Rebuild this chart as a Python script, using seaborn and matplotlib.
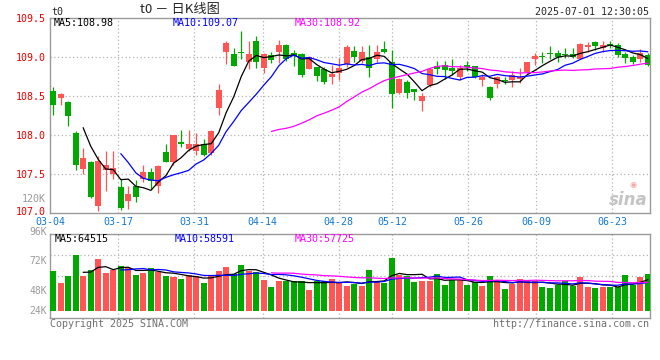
import numpy as np
import pandas as pd
import matplotlib
matplotlib.use("Agg")
import matplotlib.pyplot as plt
import matplotlib.transforms as mtransforms
import seaborn as sns

# daily bars 03-04 .. 06-30 (t0)
opens = [108.57, 108.48, 108.42, 108.02, 107.57, 107.65, 107.09, 107.55, 107.50, 107.33,
         107.16, 107.35, 107.44, 107.53, 107.34, 107.78, 107.65, 107.91, 107.82, 107.79,
         107.88, 107.77, 108.35, 109.07, 109.04, 109.06, 108.94, 109.21, 108.86, 109.02,
         109.06, 109.16, 109.05, 109.04, 108.85, 108.87, 108.84, 108.75, 108.80, 108.91,
         109.08, 108.95, 109.00, 108.98, 109.10, 108.93, 108.54, 108.68, 108.59, 108.44,
         108.64, 108.89, 108.90, 108.86, 108.75, 108.90, 108.89, 108.70, 108.62, 108.65,
         108.71, 108.71, 108.72, 108.81, 108.97, 109.01, 109.05, 109.05, 109.04, 109.04,
         108.98, 109.13, 109.19, 109.11, 109.17, 109.16, 109.04, 109.00, 108.98, 109.03]
highs = [108.61, 108.54, 108.44, 108.05, 107.83, 107.67, 107.73, 107.80, 107.80, 107.43,
         107.34, 107.42, 107.61, 107.58, 107.62, 107.88, 108.00, 108.07, 108.07, 108.03,
         107.95, 108.06, 108.65, 109.21, 109.12, 109.33, 109.20, 109.27, 109.05, 109.06,
         109.22, 109.17, 109.09, 109.05, 109.01, 108.87, 108.87, 108.90, 108.99, 109.15,
         109.14, 109.14, 109.16, 109.16, 109.21, 109.09, 108.73, 108.70, 108.59, 108.54,
         108.86, 108.95, 108.95, 108.97, 108.90, 108.95, 108.89, 108.78, 108.63, 108.76,
         108.75, 108.82, 108.86, 108.94, 109.05, 109.07, 109.14, 109.09, 109.11, 109.11,
         109.18, 109.19, 109.20, 109.21, 109.20, 109.18, 109.06, 109.03, 109.10, 109.05]
lows = [108.26, 108.39, 108.12, 107.55, 107.50, 107.19, 107.03, 107.28, 107.43, 107.04,
        107.05, 107.14, 107.40, 107.31, 107.26, 107.65, 107.62, 107.84, 107.79, 107.75,
        107.73, 107.74, 108.26, 108.91, 108.88, 108.97, 108.84, 108.86, 108.80, 108.92,
        108.92, 108.95, 108.88, 108.74, 108.84, 108.69, 108.66, 108.66, 108.71, 108.87,
        108.94, 108.92, 108.75, 108.94, 109.05, 108.35, 108.52, 108.48, 108.45, 108.31,
        108.62, 108.78, 108.72, 108.77, 108.71, 108.82, 108.73, 108.63, 108.45, 108.60,
        108.65, 108.62, 108.67, 108.79, 108.90, 108.92, 108.97, 108.94, 108.99, 108.99,
        108.97, 109.06, 109.09, 109.06, 109.11, 109.00, 108.92, 108.91, 108.94, 108.88]
closes = [108.39, 108.52, 108.24, 107.62, 107.70, 107.21, 107.67, 107.62, 107.58, 107.06,
          107.24, 107.21, 107.53, 107.41, 107.60, 107.65, 108.00, 107.88, 107.88, 107.88,
          107.75, 108.05, 108.58, 109.18, 108.89, 109.05, 109.04, 108.94, 109.04, 108.96,
          109.15, 108.98, 109.01, 108.77, 109.00, 108.76, 108.68, 108.78, 108.86, 109.13,
          109.00, 109.06, 108.86, 109.06, 109.06, 108.53, 108.72, 108.54, 108.55, 108.50,
          108.85, 108.85, 108.83, 108.82, 108.86, 108.87, 108.74, 108.74, 108.47, 108.74,
          108.69, 108.77, 108.74, 108.93, 109.01, 109.00, 109.04, 109.00, 109.02, 109.00,
          109.17, 109.15, 109.14, 109.16, 109.15, 109.02, 108.99, 108.94, 109.05, 108.90]
volume_k = [82.5, 57.7, 72.0, 115.0, 72.0, 84.0, 107.0, 79.0, 84.5, 92.8,
            88.0, 74.0, 79.0, 88.7, 79.7, 72.8, 70.0, 66.0, 74.0, 72.0,
            57.7, 72.0, 82.5, 90.7, 76.3, 94.8, 82.5, 81.0, 64.0, 49.5,
            61.9, 62.5, 62.5, 62.5, 43.3, 61.9, 61.9, 66.0, 58.4, 51.5,
            55.7, 51.5, 84.5, 60.5, 58.4, 110.0, 74.0, 72.0, 60.5, 62.5,
            62.5, 77.0, 54.3, 64.0, 64.0, 54.3, 59.8, 52.2, 72.0, 64.0,
            46.0, 55.7, 66.0, 62.5, 62.5, 50.0, 48.0, 53.6, 62.5, 51.5,
            69.4, 50.0, 48.0, 50.0, 50.0, 48.8, 74.0, 53.6, 70.0, 76.3]

date_labels = ["03-04", "03-17", "03-31", "04-14", "04-28", "05-12", "05-26", "06-09", "06-23"]
date_idx = [0, 9, 19, 28, 38, 45, 55, 64, 74]
price_ticks = [107.0, 107.5, 108.0, 108.5, 109.0, 109.5]
vol_labels = ["96K", "72K", "48K", "24K"]
price_ma_text = ["MA5:108.98", "MA10:109.07", "MA30:108.92"]
vol_ma_text = ["MA5:64515", "MA10:58591", "MA30:57725"]

df = pd.DataFrame({"open": opens, "high": highs, "low": lows,
                   "close": closes, "vol": volume_k})
df["x"] = np.arange(len(df))
df["up"] = df["close"] >= df["open"]
for n in (5, 10, 30):
    df[f"ma{n}"] = df["close"].rolling(n).mean()
    df[f"vma{n}"] = df["vol"].rolling(n).mean()

RED = "#ff5555"
GREEN = "#00a800"
GRID = "#b4b4b4"
BORDER = "#9a9a9a"
ma_colors = ["black", "#0000ff", "#ff00ff"]

sns.set_style("white")
plt.rcParams["font.family"] = ["DejaVu Sans Mono", "Noto Sans CJK SC"]
FS = 7.2

W, H = 660, 360
fig = plt.figure(figsize=(6.6, 3.6), dpi=100)
ax = fig.add_axes([50 / W, 1 - 213 / H, 600 / W, 195 / H])
axv = fig.add_axes([50 / W, 1 - 318 / H, 600 / W, 84 / H])

colors = np.where(df["up"], RED, GREEN)
grid_x = [i * 1.0093 - 0.4 for i in date_idx]

# price panel
ax.vlines(df["x"], df["low"], df["high"], colors=colors, lw=0.9, zorder=3)
body = (df["close"] - df["open"]).abs().clip(lower=0.013)
ax.bar(df["x"], body, bottom=df[["open", "close"]].min(axis=1), width=0.8,
       color=colors, lw=0, zorder=4)
for n, c in zip((5, 10, 30), ma_colors):
    sns.lineplot(data=df, x="x", y=f"ma{n}", ax=ax, color=c, lw=0.9, zorder=5)

ax.set_xlim(-0.4, 79.28)
ax.set_ylim(107.0, 109.5)
for y in price_ticks[1:-1]:
    ax.axhline(y, color=GRID, lw=0.9, ls=(0, (1, 2)), zorder=1)
for gx in grid_x[1:]:
    ax.axvline(gx, color=GRID, lw=0.9, ls=(0, (1, 2)), zorder=1)
ax.set_yticks(price_ticks)
ax.set_yticklabels([f"{p:.1f}" for p in price_ticks], color="#ee0000", fontsize=FS)
ax.set_xticks(grid_x)
ax.set_xticklabels(date_labels, color="#1478d2", fontsize=FS)
ax.tick_params(length=0, pad=3)
ax.tick_params(axis="x", pad=3.1)
ax.set_xlabel("")
ax.set_ylabel("")
# lift the bottom price label a little so it clears the date labels
low_lbl = ax.get_yticklabels()[0]
low_lbl.set_transform(low_lbl.get_transform() +
                      mtransforms.ScaledTranslation(0, 1.6 / 72, fig.dpi_scale_trans))

# volume panel
axv.bar(df["x"], df["vol"], width=0.8, color=colors, lw=0, zorder=3)
for n, c in zip((5, 10, 30), ma_colors):
    sns.lineplot(data=df, x="x", y=f"vma{n}", ax=axv, color=c, lw=0.9, zorder=5)
axv.set_xlim(-0.4, 79.28)
axv.set_ylim(-14.4, 158.8)
lo, hi = axv.get_ylim()
for f in (0.25, 0.5, 0.75):
    axv.axhline(lo + f * (hi - lo), color=GRID, lw=0.9, ls=(0, (1, 2)), zorder=1)
for gx in grid_x[1:]:
    axv.axvline(gx, color=GRID, lw=0.9, ls=(0, (1, 2)), zorder=1)
axv.set_xticks([])
axv.set_yticks([])
axv.set_xlabel("")
axv.set_ylabel("")

for a in (ax, axv):
    for s in a.spines.values():
        s.set_color(BORDER)
        s.set_linewidth(1)

def ftext(x, y, s, **kw):
    kw.setdefault("fontsize", FS)
    fig.text(x / W, 1 - y / H, s, **kw)

# header
ftext(51, 12, "t0", va="center")
ftext(140, 10, "t0 － 日K线图", va="center", fontsize=9.5,
      family=["Noto Sans CJK SC", "DejaVu Sans"])
ftext(649, 12, "2025-07-01 12:30:05", ha="right", va="center")

# MA legends
for (txt, c, x) in zip(price_ma_text, ma_colors, (54, 173, 295)):
    ftext(x, 23.5, txt, color=c, va="center")
for (txt, c, x) in zip(vol_ma_text, ma_colors, (55, 175, 295)):
    ftext(x, 238.5, txt, color=c, va="center")

# volume axis labels
for txt, y in zip(vol_labels, (232, 261, 291, 311)):
    ftext(47, y, txt, color="#9a9a9a", ha="right", va="center", fontsize=7)
ftext(46, 199, "120K", color="#9a9a9a", ha="right", va="center")

# footer
ftext(50, 324, "Copyright 2025 SINA.COM", color="#707070", va="center")
ftext(649, 324, "http://finance.sina.com.cn", color="#707070", ha="right", va="center")

# watermark
ftext(648, 200, "sina", color="#c4c4c4", ha="right", va="center", fontsize=12,
      style="italic", weight="bold", family="DejaVu Sans")
ftext(633, 184, "◉", color="#f2a8a8", ha="center", va="center", fontsize=6,
      family="DejaVu Sans")

fig.savefig("out.png", dpi=100, facecolor="white")
